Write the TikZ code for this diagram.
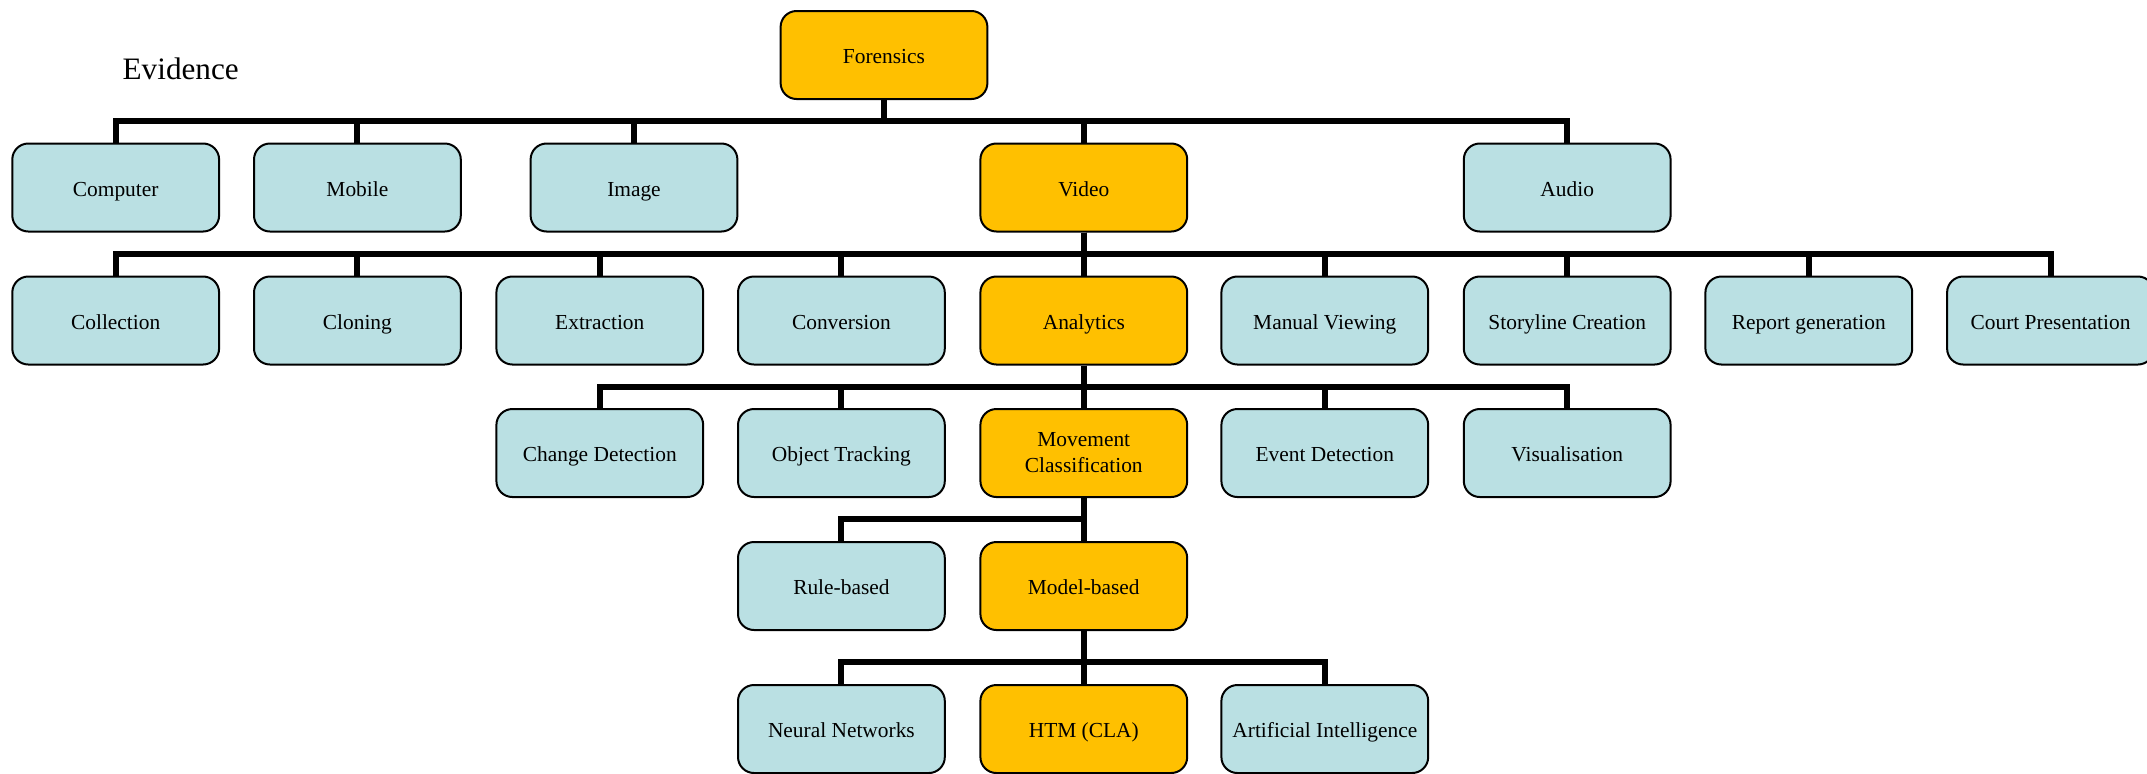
\documentclass[tikz,border=0pt]{standalone}
\usepackage{fontspec}
\setmainfont{Liberation Serif}
\definecolor{lblue}{HTML}{BAE0E3}
\definecolor{gold}{HTML}{FFC000}
\begin{document}
\begin{tikzpicture}[x=0.5pt,y=-0.5pt,
  box/.style={draw=black,line width=1pt,rounded corners=8pt,minimum width=103.4pt,minimum height=44pt,align=center,font=\fontsize{10.7}{13}\selectfont,inner sep=0pt,text height=10.4pt,text depth=1.6pt},
  leaf/.style={box,fill=lblue},
  hot/.style={box,fill=gold},
  twoline/.style={text height=,text depth=},
  conn/.style={line width=3pt}]
\useasboundingbox (0,0) rectangle (2147,773);
% bar heights
\coordinate (b1) at (0,121);
\coordinate (b2) at (0,254);
\coordinate (b3) at (0,386.5);
\coordinate (b4) at (0,519);
\coordinate (b5) at (0,661.5);
% title
\node[font=\fontsize{15.6}{18}\selectfont] (evidence) at (180.7,68.5) {Evidence};
% nodes
\node[hot] (forensics) at (884,55) {Forensics};
\node[leaf] (computer) at (115.7,187.5) {Computer};
\node[leaf] (mobile) at (357.4,187.5) {Mobile};
\node[leaf] (image) at (634,187.5) {Image};
\node[hot] (video) at (1083.8,187.5) {Video};
\node[leaf] (audio) at (1567.2,187.5) {Audio};
\node[leaf] (collection) at (115.7,320.5) {Collection};
\node[leaf] (cloning) at (357.4,320.5) {Cloning};
\node[leaf] (extraction) at (599.8,320.5) {Extraction};
\node[leaf] (conversion) at (841.4,320.5) {Conversion};
\node[hot] (analytics) at (1083.8,320.5) {Analytics};
\node[leaf] (manual) at (1324.8,320.5) {Manual Viewing};
\node[leaf] (storyline) at (1567.2,320.5) {Storyline Creation};
\node[leaf] (report) at (1808.8,320.5) {Report generation};
\node[leaf] (court) at (2050.5,320.5) {Court Presentation};
\node[leaf] (change) at (599.8,453) {Change Detection};
\node[leaf] (object) at (841.4,453) {Object Tracking};
\node[hot,twoline] (movement) at (1083.8,453) {Movement\\Classification};
\node[leaf] (event) at (1324.8,453) {Event Detection};
\node[leaf] (visual) at (1567.2,453) {Visualisation};
\node[leaf] (rule) at (841.4,586) {Rule-based};
\node[hot] (model) at (1083.8,586) {Model-based};
\node[leaf] (neural) at (841.4,729) {Neural Networks};
\node[hot] (htm) at (1083.8,729) {HTM (CLA)};
\node[leaf] (ai) at (1324.8,729) {Artificial Intelligence};
% connectors
\foreach \c in {computer,mobile,image,video,audio}
  \draw[conn] (forensics.south) -- (forensics.south |- b1) -| (\c.north);
\foreach \c in {collection,cloning,extraction,conversion,analytics,manual,storyline,report,court}
  \draw[conn] (video.south) -- (video.south |- b2) -| (\c.north);
\foreach \c in {change,object,movement,event,visual}
  \draw[conn] (analytics.south) -- (analytics.south |- b3) -| (\c.north);
\foreach \c in {rule,model}
  \draw[conn] (movement.south) -- (movement.south |- b4) -| (\c.north);
\foreach \c in {neural,htm,ai}
  \draw[conn] (model.south) -- (model.south |- b5) -| (\c.north);
\end{tikzpicture}
\end{document}
